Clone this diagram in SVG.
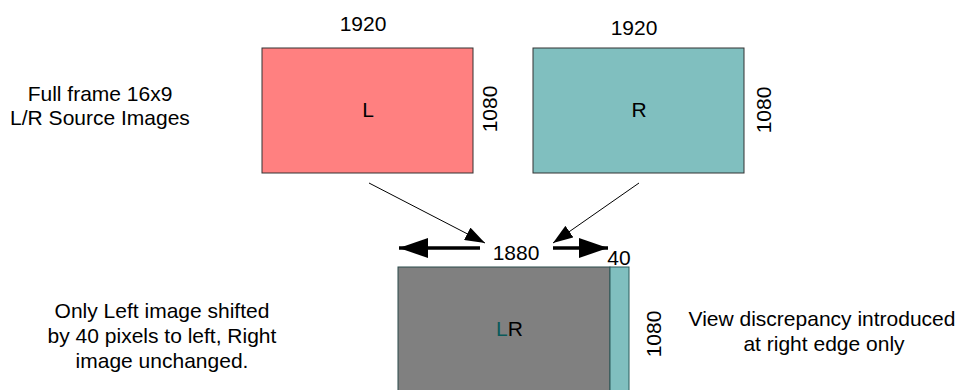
<svg xmlns="http://www.w3.org/2000/svg" width="959" height="390" viewBox="0 0 959 390">
<defs>
<style>
text{font-family:"Liberation Sans",Arial,sans-serif;font-size:21px;fill:#000}
.c{text-anchor:middle}
.box{stroke:#333;stroke-width:1}
.thin{stroke:#000;stroke-width:1;fill:none}
.thick{stroke:#000;stroke-width:3.5;fill:none}
</style>
<marker id="ah" viewBox="0 0 20 14" refX="20" refY="7" markerWidth="20" markerHeight="14" orient="auto" markerUnits="userSpaceOnUse"><path d="M0,0 L20,7 L0,14 z" fill="#000"/></marker>
<marker id="ahb" viewBox="0 0 29 20" refX="29" refY="10" markerWidth="29" markerHeight="20" orient="auto" markerUnits="userSpaceOnUse"><path d="M0,0 L29,10 L0,20 z" fill="#000"/></marker>
</defs>
<rect width="959" height="390" fill="#fff"/>
<g id="label-source">
<text class="c" x="100" y="101">Full frame 16x9</text>
<text class="c" x="100" y="125">L/R Source Images</text>
</g>
<g id="node-L">
<rect class="box" x="262" y="48" width="211" height="125" fill="#ff8080"/>
<text class="c" x="368" y="117">L</text>
<text class="c" x="363" y="31">1920</text>
<text class="c" transform="translate(497,109) rotate(-90)">1080</text>
</g>
<g id="node-R">
<rect class="box" x="533" y="48" width="211" height="125" fill="#80bfbf"/>
<text class="c" x="639" y="117">R</text>
<text class="c" x="634" y="35">1920</text>
<text class="c" transform="translate(771,110) rotate(-90)">1080</text>
</g>
<g id="node-LR">
<rect x="398" y="267" width="212" height="140" fill="#808080" stroke="#2a4a4a" stroke-width="1"/>
<rect x="610" y="267" width="19" height="140" fill="#80bfbf" stroke="#2a5a5a" stroke-width="1"/>
<text x="496" y="336"><tspan style="fill:#0a5a5a">L</tspan>R</text>
<text class="c" x="516" y="260">1880</text>
<text class="c" x="619" y="265">40</text>
<text class="c" transform="translate(661,334) rotate(-90)">1080</text>
</g>
<g id="label-shift">
<text class="c" x="162" y="318">Only Left image shifted</text>
<text class="c" x="162" y="343">by 40 pixels to left, Right</text>
<text class="c" x="162" y="368">image unchanged.</text>
</g>
<g id="label-discrepancy">
<text class="c" x="822" y="326">View discrepancy introduced</text>
<text class="c" x="824" y="351">at right edge only</text>
</g>
<g id="connectors">
<line class="thin" x1="369" y1="183" x2="485" y2="243" marker-end="url(#ah)"/>
<line class="thin" x1="639" y1="183" x2="553" y2="243" marker-end="url(#ah)"/>
<line class="thick" x1="480" y1="248" x2="399" y2="248" marker-end="url(#ahb)"/>
<line class="thick" x1="553" y1="248" x2="608" y2="248" marker-end="url(#ahb)"/>
</g>
</svg>
